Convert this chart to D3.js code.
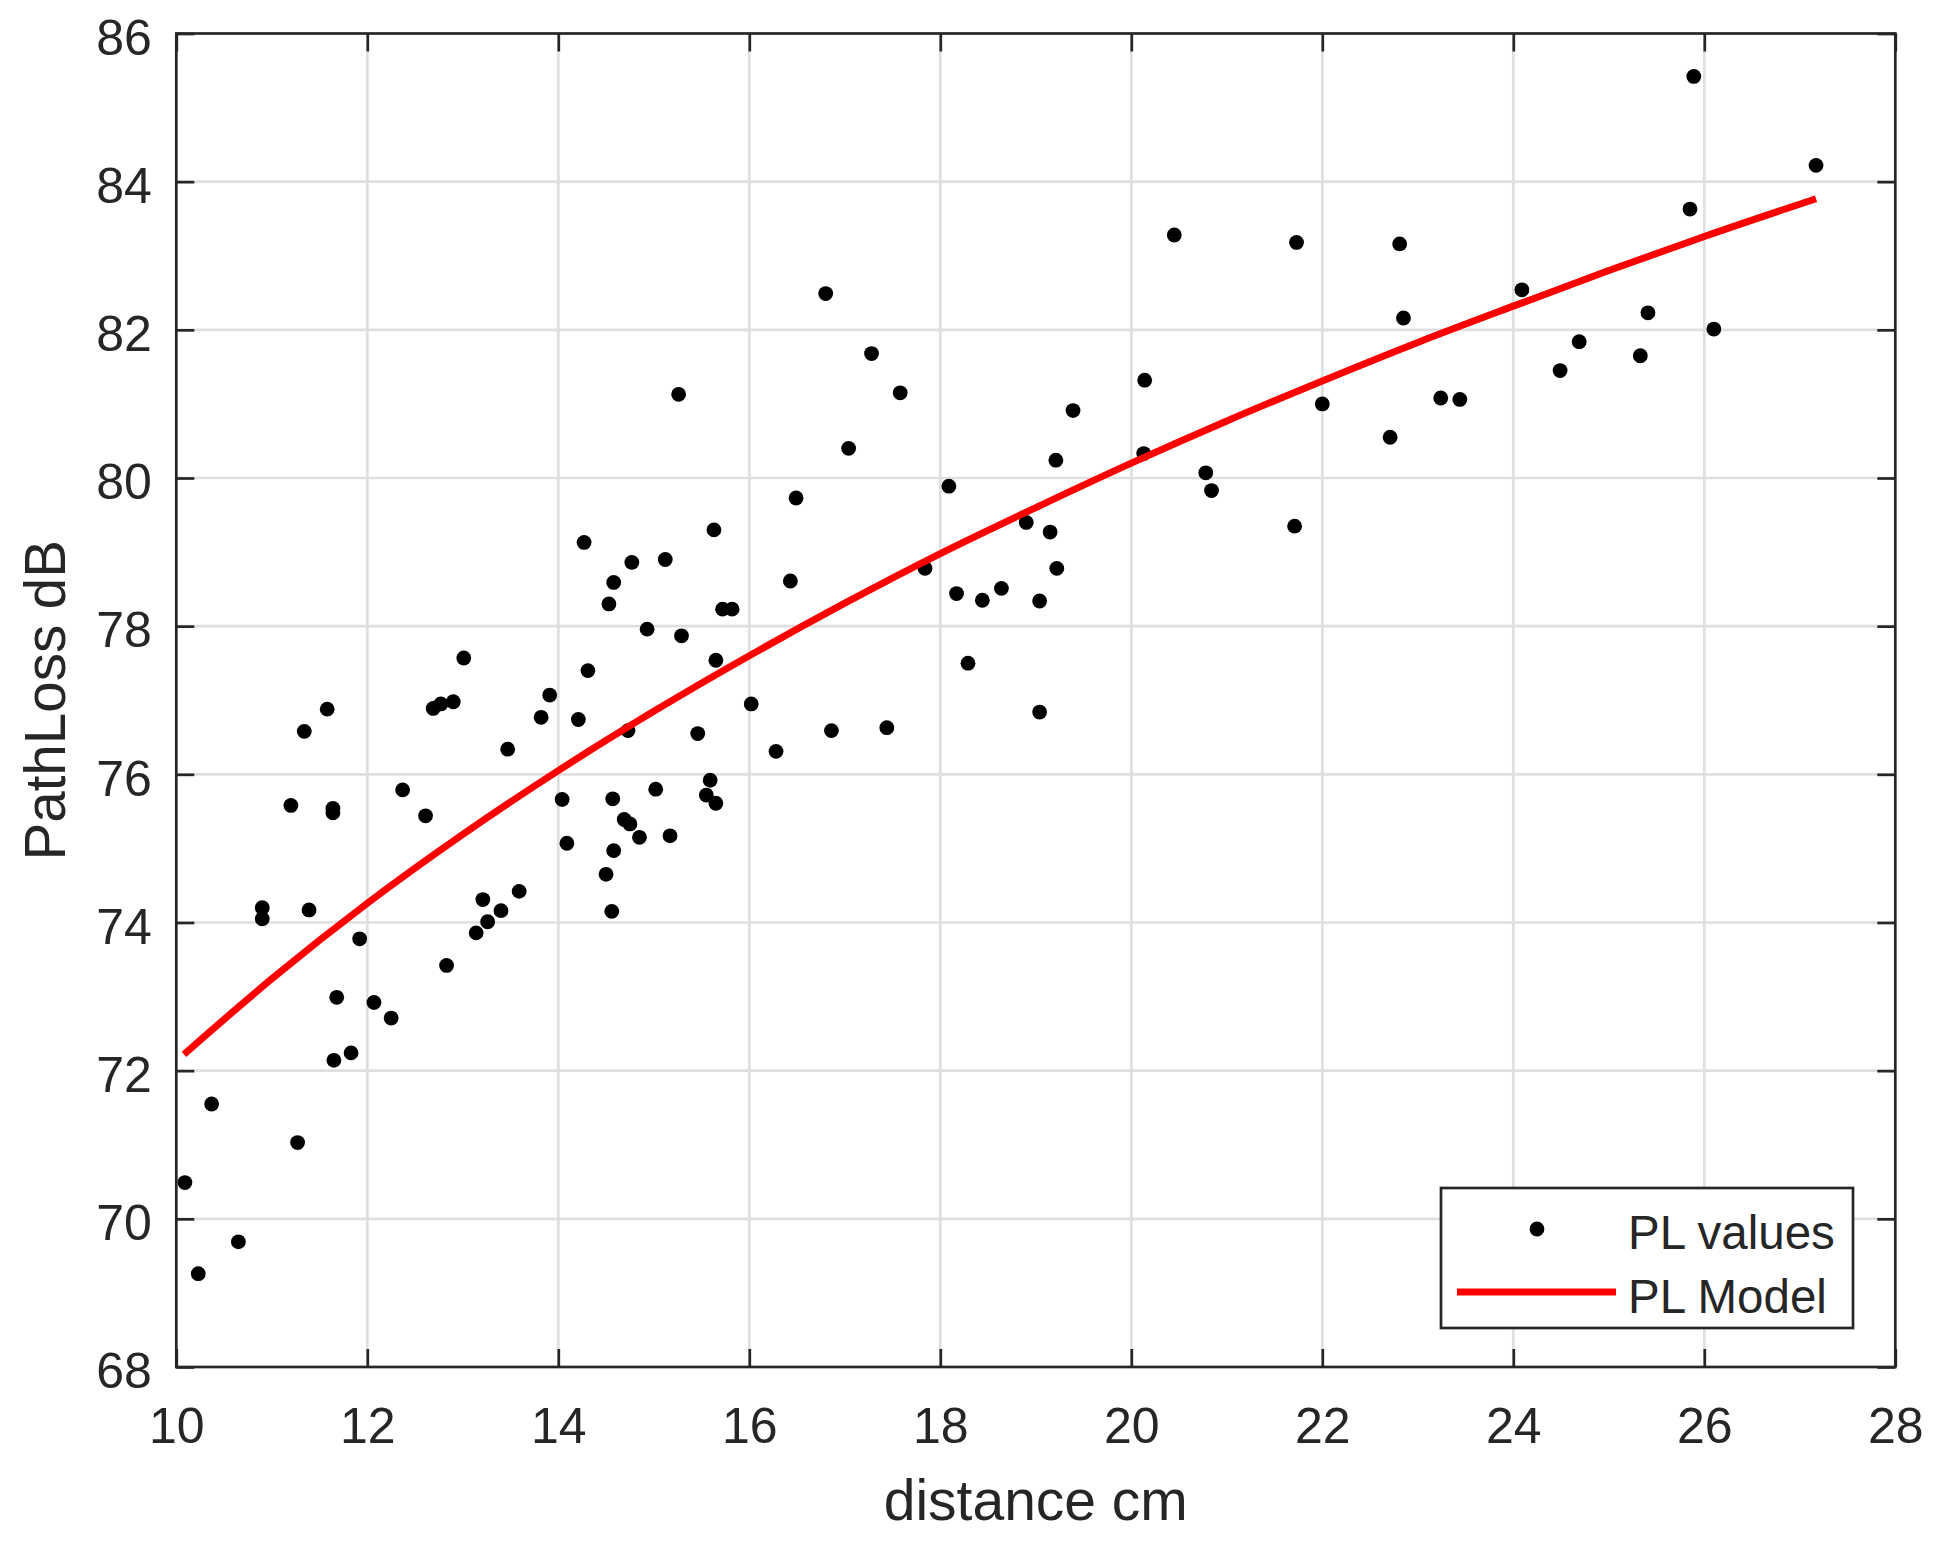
<!DOCTYPE html>
<html>
<head>
<meta charset="utf-8">
<script src="https://cdn.jsdelivr.net/npm/d3@7"></script>
<style>
  html, body { margin: 0; padding: 0; background: #ffffff; }
  svg { display: block; }
  text { font-family: "Liberation Sans", Arial, Helvetica, sans-serif; fill: #262626; }
</style>
</head>
<body>
<svg id="chart" width="1943" height="1549"></svg>
<script>
// ---- data ----
const distance = [10.09,10.23,10.37,10.65,10.90,10.90,11.20,11.27,11.34,11.39,11.58,11.64,11.64,11.65,11.68,11.83,11.92,12.07,12.25,12.37,
  12.61,12.69,12.77,12.83,12.90,13.01,13.14,13.21,13.26,13.40,13.47,13.59,13.82,13.91,14.04,14.09,14.21,14.27,14.31,14.50,
  14.53,14.56,14.57,14.58,14.58,14.69,14.73,14.75,14.77,14.85,14.93,15.02,15.12,15.17,15.26,15.29,15.46,15.55,15.59,15.63,
  15.65,15.65,15.72,15.82,16.02,16.28,16.43,16.49,16.80,16.86,17.04,17.28,17.44,17.58,17.84,18.09,18.17,18.29,18.44,18.64,
  18.90,19.04,19.04,19.15,19.21,19.22,19.39,20.14,20.13,20.45,20.78,20.84,21.71,21.73,22.00,22.71,22.81,22.85,23.24,23.44,
  24.09,24.49,24.69,25.33,25.41,25.85,25.89,26.10,27.17];
const pathLoss = [70.49,69.26,71.55,69.69,74.20,74.05,75.58,71.03,76.58,74.17,76.88,75.54,75.48,72.14,72.99,72.24,73.78,72.92,72.71,75.79,
  75.44,76.89,76.95,73.42,76.98,77.57,73.86,74.31,74.01,74.16,76.34,74.42,76.77,77.07,75.66,75.07,76.74,79.13,77.40,74.65,
  78.30,74.15,75.67,78.59,74.97,75.39,76.59,75.33,78.86,75.15,77.96,75.80,78.90,75.17,81.13,77.87,76.55,75.72,75.92,79.30,
  77.54,75.61,78.23,78.23,76.95,76.31,78.61,79.73,82.49,76.59,80.40,81.68,76.63,81.15,78.78,79.89,78.44,77.50,78.35,78.51,
  79.40,78.34,76.84,79.27,80.24,78.78,80.91,81.32,80.33,83.28,80.07,79.83,79.35,83.18,81.00,80.55,83.16,82.16,81.08,81.06,
  82.54,81.45,81.84,81.65,82.23,83.63,85.42,82.01,84.22];

const modelDistance = [10.08,11,12,13,14,15,16,17,18,19,20,21,22,23,24,25,26,27.17];
const modelPathLoss = [72.22,73.24,74.26,75.19,76.05,76.85,77.60,78.31,78.98,79.60,80.20,80.77,81.31,81.83,82.32,82.80,83.26,83.77];

const xTicks = [10,12,14,16,18,20,22,24,26,28];
const yTicks = [68,70,72,74,76,78,80,82,84,86];
const seriesNames = ["PL values", "PL Model"];
const xLabel = "distance cm";
const yLabel = "PathLoss dB";

// ---- layout ----
const L = 176.3, R = 1895.3, T = 33.5, B = 1367;
const axisColor = "#262626", gridColor = "#dfdfdf";
const tickLen = 18, axisW = 2.7;
const fontFam = '"Liberation Sans", Arial, Helvetica, sans-serif';

const svg = d3.select("#chart");
svg.append("rect").attr("width", 1943).attr("height", 1549).attr("fill", "#fff");

const x = d3.scaleLinear().domain([10, 28]).range([L, R]);
const y = d3.scaleLinear().domain([68, 86]).range([B, T]);

// grid
const grid = svg.append("g");
grid.selectAll("line.gx").data(xTicks.slice(1, -1)).join("line")
  .attr("x1", d => x(d)).attr("x2", d => x(d)).attr("y1", T).attr("y2", B)
  .attr("stroke", gridColor).attr("stroke-width", 2.7);
grid.selectAll("line.gy").data(yTicks.slice(1, -1)).join("line")
  .attr("y1", d => y(d)).attr("y2", d => y(d)).attr("x1", L).attr("x2", R)
  .attr("stroke", gridColor).attr("stroke-width", 2.7);

// points
svg.append("g").selectAll("circle").data(distance.map((d, i) => [d, pathLoss[i]])).join("circle")
  .attr("cx", d => x(d[0])).attr("cy", d => y(d[1])).attr("r", 7.4).attr("fill", "#000");

// model line
const line = d3.line().x(d => x(d[0])).y(d => y(d[1])).curve(d3.curveMonotoneX);
svg.append("path").datum(modelDistance.map((d, i) => [d, modelPathLoss[i]]))
  .attr("d", line).attr("fill", "none").attr("stroke", "#ff0000").attr("stroke-width", 7);

// axes
function styleAxis(g) {
  g.select(".domain").remove();
  g.selectAll(".tick line").attr("stroke", axisColor).attr("stroke-width", axisW);
  g.selectAll(".tick text").attr("font-size", 50).attr("fill", axisColor).attr("font-family", fontFam);
}
svg.append("g").attr("transform", `translate(0,${B})`)
  .call(d3.axisBottom(x).tickValues(xTicks).tickSize(-tickLen).tickPadding(40).tickFormat(d3.format("d")))
  .call(styleAxis);
svg.append("g").attr("transform", `translate(0,${T})`)
  .call(d3.axisTop(x).tickValues(xTicks).tickSize(-tickLen).tickFormat(""))
  .call(styleAxis);
const yAx = svg.append("g").attr("transform", `translate(${L},0)`)
  .call(d3.axisLeft(y).tickValues(yTicks).tickSize(-tickLen).tickPadding(24.5).tickFormat(d3.format("d")))
  .call(styleAxis);
yAx.selectAll(".tick text").attr("dy", "0.414em");
svg.append("g").attr("transform", `translate(${R},0)`)
  .call(d3.axisRight(y).tickValues(yTicks).tickSize(-tickLen).tickFormat(""))
  .call(styleAxis);

// box
svg.append("rect").attr("x", L).attr("y", T).attr("width", R - L).attr("height", B - T)
  .attr("fill", "none").attr("stroke", axisColor).attr("stroke-width", axisW);

// axis labels
svg.append("text").attr("x", (L + R) / 2).attr("y", 1520).attr("text-anchor", "middle")
  .attr("font-size", 57).text(xLabel);
svg.append("text").attr("transform", `translate(65,${(T + B) / 2}) rotate(-90)`)
  .attr("text-anchor", "middle").attr("font-size", 56.5).text(yLabel);

// legend
const lg = svg.append("g");
lg.append("rect").attr("x", 1441).attr("y", 1188).attr("width", 412).attr("height", 140)
  .attr("fill", "#fff").attr("stroke", axisColor).attr("stroke-width", axisW);
lg.append("circle").attr("cx", 1537).attr("cy", 1229).attr("r", 7.4).attr("fill", "#000");
lg.append("line").attr("x1", 1457).attr("x2", 1616).attr("y1", 1292).attr("y2", 1292)
  .attr("stroke", "#ff0000").attr("stroke-width", 7);
lg.selectAll("text").data(seriesNames).join("text")
  .attr("x", 1628).attr("y", (d, i) => 1249 + i * 64).attr("font-size", 47.5).attr("fill", "#000").text(d => d);
</script>
</body>
</html>
